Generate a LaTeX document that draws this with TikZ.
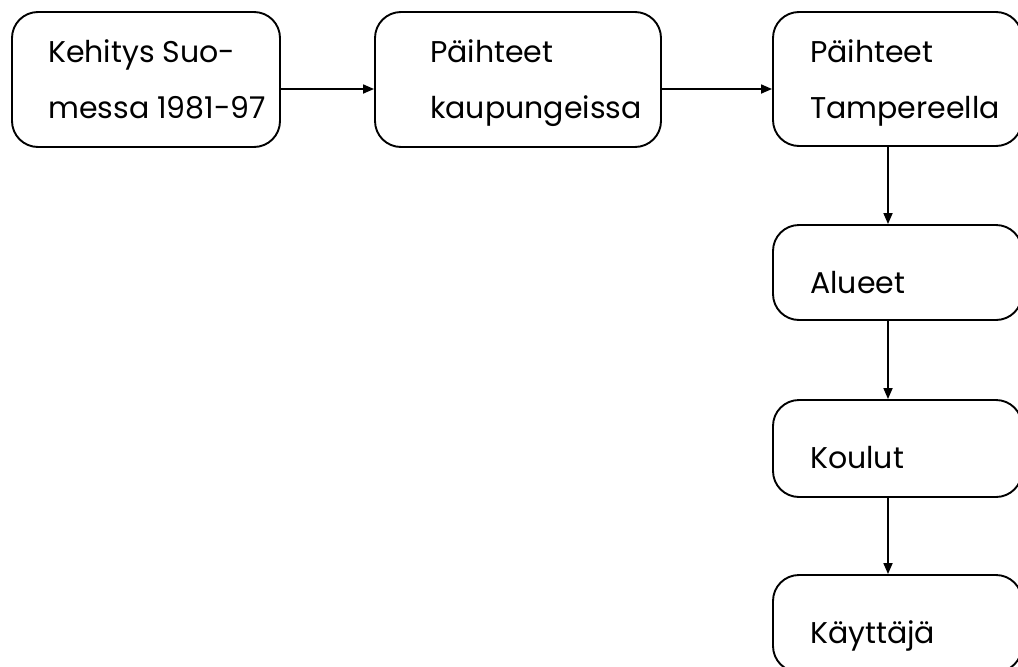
\documentclass[tikz,border=0pt]{standalone}
\usepackage{fontspec}
\setmainfont{Poppins}
\usetikzlibrary{arrows.meta}
\tikzset{
  box/.style={draw=black, line width=1.9pt, rounded corners=26pt, rectangle, inner sep=0pt},
  txt/.style={anchor=base west, inner sep=0pt, font=\fontsize{30}{30}\selectfont},
  arr/.style={line width=1.7pt, -{Triangle[length=11pt,width=9pt]}}
}
\begin{document}
\begin{tikzpicture}[x=1pt,y=-1pt]
\useasboundingbox (0,0) rectangle (1018,667);
\fill[white] (0,0) rectangle (1018,667);
% boxes
\node[box, minimum width=268pt, minimum height=135pt] (b1) at (146,79.5) {};
\node[box, minimum width=286pt, minimum height=135pt] (b2) at (518,79.5) {};
\node[box, minimum width=249pt, minimum height=134pt] (b3) at (897.5,79) {};
\node[box, minimum width=249pt, minimum height=95pt] (b4) at (897.5,272.5) {};
\node[box, minimum width=249pt, minimum height=97pt] (b5) at (897.5,448.5) {};
\node[box, minimum width=249pt, minimum height=97pt] (b6) at (897.5,623.5) {};
% texts
\node[txt] (t1a) at (48,62) {Kehitys Suo-};
\node[txt] (t1b) at (48,118) {messa 1981-97};
\node[txt] (t2a) at (430,62) {Päihteet};
\node[txt] (t2b) at (430,118) {kaupungeissa};
\node[txt] (t3a) at (810,62) {Päihteet};
\node[txt] (t3b) at (810,118) {Tampereella};
\node[txt] (t4) at (810,293) {Alueet};
\node[txt] (t5) at (810,468) {Koulut};
\node[txt] (t6) at (810,643) {Käyttäjä};
% arrows
\coordinate (h) at (0,89);
\coordinate (v) at (888,0);
\draw[arr] (b1.east |- h) -- (b2.west |- h);
\draw[arr] (b2.east |- h) -- (b3.west |- h);
\draw[arr] (b3.south -| v) -- (b4.north -| v);
\draw[arr] (b4.south -| v) -- (b5.north -| v);
\draw[arr] (b5.south -| v) -- (b6.north -| v);
\end{tikzpicture}
\end{document}
